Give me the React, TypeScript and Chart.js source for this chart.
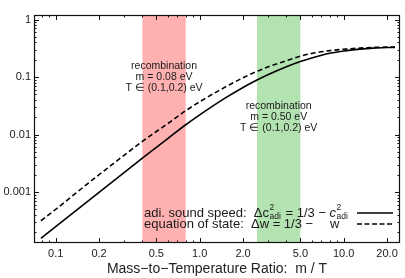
import React, { useEffect, useRef } from "react";
import { Chart, registerables } from "chart.js";

Chart.register(...registerables);

// Mass-to-temperature ratio m/T
const ratios = [0.079, 0.1, 0.15, 0.2, 0.3, 0.4, 0.5, 0.6, 0.8, 1.0, 1.5, 2.0, 2.5, 3.0, 4.0, 5.0, 6.0, 8.0, 10, 13, 16, 20, 22.7];
// adi. sound speed: Δc²_adi = 1/3 − c²_adi
const soundSpeedDelta = [1.57e-4, 2.5e-4, 5.6e-4, 9.9e-4, 2.2e-3, 3.9e-3, 6.0e-3, 8.5e-3, 0.0148, 0.022, 0.043, 0.066, 0.0887, 0.1106, 0.151, 0.186, 0.215, 0.259, 0.2845, 0.306, 0.319, 0.326, 0.328];
// equation of state: Δw = 1/3 − w
const eosDelta = [3.17e-4, 5.0e-4, 1.13e-3, 2.0e-3, 4.4e-3, 7.6e-3, 0.0113, 0.0155, 0.026, 0.0372, 0.0668, 0.0972, 0.1256, 0.1507, 0.192, 0.23, 0.2576, 0.288, 0.305, 0.319, 0.327, 0.332, 0.334];

const xTickValues = [0.1, 0.2, 0.5, 1, 2, 5, 10, 20];
const xTickLabels = ["0.1", "0.2", "0.5", "1.0", "2.0", "5.0", "10.0", "20.0"];
const yTickValues = [0.001, 0.01, 0.1, 1];
const yTickLabels = ["0.001", "0.01", "0.1", "1"];

const xRange = [0.0707, 24.6];
const yRange = [1.3e-4, 1.2];

const bandRanges = [
  [0.4, 0.8],
  [2.5, 5.0],
];
const bandColors = ["#ffb1b1", "#b3e3b1"];
const bandLabels = [
  ["recombination", "m = 0.08 eV", "T \u2208 (0.1,0.2) eV"],
  ["recombination", "m = 0.50 eV", "T \u2208 (0.1,0.2) eV"],
];
const xTitle = "Mass\u2212to\u2212Temperature Ratio:  m / T";

const FONT = "'Liberation Sans', Arial, Helvetica, sans-serif";

function minorTicks(min: number, max: number): number[] {
  const out: number[] = [];
  for (let e = Math.floor(Math.log10(min)); e <= Math.ceil(Math.log10(max)); e++) {
    for (let m = 1; m <= 9; m++) {
      const v = m * Math.pow(10, e);
      if (v >= min && v <= max) out.push(v);
    }
  }
  return out;
}

const framePlugin = {
  id: "frame",
  beforeDatasetsDraw(chart: any) {
    const { ctx, chartArea, scales } = chart;
    const xs = scales.x;
    ctx.save();
    bandRanges.forEach((r, i) => {
      const x0 = xs.getPixelForValue(r[0]);
      const x1 = xs.getPixelForValue(r[1]);
      ctx.fillStyle = bandColors[i];
      ctx.fillRect(x0, chartArea.top, x1 - x0, chartArea.bottom - chartArea.top);
    });
    ctx.restore();
  },
  afterDatasetsDraw(chart: any) {
    const { ctx, chartArea, scales } = chart;
    const xs = scales.x;
    const ys = scales.y;
    const { left, right, top, bottom } = chartArea;
    ctx.save();
    // frame
    ctx.strokeStyle = "#111";
    ctx.lineWidth = 1.2;
    ctx.strokeRect(left + 0.5, top + 0.5, right - left - 1, bottom - top - 1);
    // ticks
    ctx.lineWidth = 1;
    ctx.beginPath();
    minorTicks(xRange[0], xRange[1]).forEach((v) => {
      const major = xTickValues.some((t) => Math.abs(t - v) / t < 1e-6);
      const len = major ? 5 : 2.5;
      const px = Math.round(xs.getPixelForValue(v)) + 0.5;
      ctx.moveTo(px, bottom);
      ctx.lineTo(px, bottom - len);
      ctx.moveTo(px, top);
      ctx.lineTo(px, top + len);
    });
    minorTicks(yRange[0], yRange[1]).forEach((v) => {
      const major = yTickValues.some((t) => Math.abs(t - v) / t < 1e-6);
      const len = major ? 5 : 2.5;
      const py = Math.round(ys.getPixelForValue(v)) + 0.5;
      ctx.moveTo(left, py);
      ctx.lineTo(left + len, py);
      ctx.moveTo(right, py);
      ctx.lineTo(right - len, py);
    });
    ctx.stroke();

    // band annotations
    ctx.fillStyle = "#1a1a1a";
    ctx.font = `10.5px ${FONT}`;
    ctx.textAlign = "center";
    ctx.textBaseline = "middle";
    const annoTops = [66, 106];
    bandRanges.forEach((r, i) => {
      const cx = xs.getPixelForValue(Math.sqrt(r[0] * r[1]));
      bandLabels[i].forEach((line, j) => {
        ctx.fillText(line, cx, top + (annoTops[i] - 15) + j * 11);
      });
    });

    // legend
    const lx = left + 110;
    const ly1 = top + 198;
    const ly2 = top + 209;
    ctx.textAlign = "left";
    ctx.textBaseline = "middle";
    const big = `13px ${FONT}`;
    const small = `8.5px ${FONT}`;
    const ital = `italic 13px ${FONT}`;
    let x = lx;
    const put = (t: string, f: string) => {
      ctx.font = f;
      ctx.fillText(t, x, ly1);
      return ctx.measureText(t).width;
    };
    const supsub = (y: number) => {
      ctx.font = small;
      ctx.fillText("2", x + 0.5, y - 5);
      ctx.fillText("adi", x + 0.5, y + 3.5);
      x += ctx.measureText("adi").width + 1.5;
    };
    x += put("adi. sound speed:  \u0394c", big);
    supsub(ly1);
    x += put(" = 1/3 \u2212 ", big);
    x += put("c", ital);
    supsub(ly1);
    ctx.font = big;
    ctx.fillText("equation of state:  \u0394w = 1/3 \u2212", lx, ly2);
    ctx.fillText("w", lx + 186, ly2);

    ctx.strokeStyle = "#000";
    ctx.lineWidth = 1.6;
    ctx.beginPath();
    ctx.moveTo(right - 43, ly1);
    ctx.lineTo(right - 7, ly1);
    ctx.stroke();
    ctx.setLineDash([5, 2.5]);
    ctx.beginPath();
    ctx.moveTo(right - 43, ly2);
    ctx.lineTo(right - 7, ly2);
    ctx.stroke();
    ctx.restore();
  },
};

export default function App() {
  const canvasRef = useRef<HTMLCanvasElement | null>(null);

  useEffect(() => {
    const canvas = canvasRef.current;
    if (!canvas) return;
    const toPts = (ys: number[]) => ratios.map((x, i) => ({ x, y: ys[i] }));
    const chart = new Chart(canvas, {
      type: "line",
      data: {
        datasets: [
          {
            label: "adi. sound speed",
            data: toPts(soundSpeedDelta),
            borderColor: "#000",
            borderWidth: 1.6,
            pointRadius: 0,
            cubicInterpolationMode: "monotone",
            fill: false,
          },
          {
            label: "equation of state",
            data: toPts(eosDelta),
            borderColor: "#000",
            borderWidth: 1.6,
            borderDash: [5, 3],
            pointRadius: 0,
            cubicInterpolationMode: "monotone",
            fill: false,
          },
        ],
      },
      options: {
        responsive: false,
        animation: false,
        events: [],
        layout: { padding: { top: 15, right: 5, left: 0, bottom: 0 } },
        plugins: { legend: { display: false }, tooltip: { enabled: false }, title: { display: false } },
        scales: {
          x: {
            type: "logarithmic",
            min: xRange[0],
            max: xRange[1],
            grid: { display: false, drawTicks: false },
            border: { display: false },
            afterBuildTicks: (s: any) => {
              s.ticks = xTickValues.map((v) => ({ value: v }));
            },
            afterFit: (s: any) => {
              s.height = 35;
            },
            ticks: {
              autoSkip: false,
              maxRotation: 0,
              padding: 4,
              color: "#222",
              font: { family: FONT, size: 11 },
              callback: (_v: any, i: number) => xTickLabels[i],
            },
            title: {
              display: true,
              text: xTitle,
              color: "#222",
              padding: 0,
              font: { family: FONT, size: 14 },
            },
          },
          y: {
            type: "logarithmic",
            min: yRange[0],
            max: yRange[1],
            grid: { display: false, drawTicks: false },
            border: { display: false },
            afterBuildTicks: (s: any) => {
              s.ticks = yTickValues.map((v) => ({ value: v }));
            },
            afterFit: (s: any) => {
              s.width = 34;
            },
            ticks: {
              autoSkip: false,
              padding: 3,
              color: "#222",
              font: { family: FONT, size: 11 },
              callback: (_v: any, i: number) => yTickLabels[i],
            },
          },
        },
      },
      plugins: [framePlugin],
    } as any);
    return () => chart.destroy();
  }, []);

  return (
    <div style={{ position: "fixed", left: 0, top: 0, width: 405, height: 278, background: "#fff" }}>
      <canvas ref={canvasRef} width={405} height={278} style={{ display: "block" }} />
    </div>
  );
}
